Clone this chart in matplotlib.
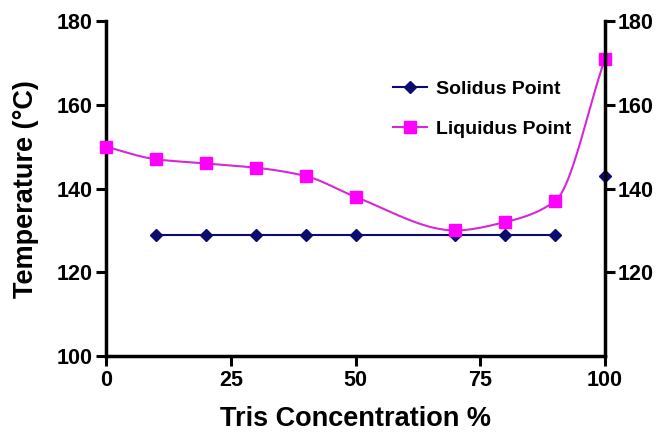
import numpy as np
import matplotlib
matplotlib.use("Agg")
import matplotlib.pyplot as plt

plt.rcParams['font.family'] = ['Liberation Sans', 'DejaVu Sans']
plt.rcParams['font.weight'] = 'bold'

# Data
solidus_x = [10, 20, 30, 40, 50, 70, 80, 90]
solidus_y = [129, 129, 129, 129, 129, 129, 129, 129]
solidus_extra_x = [100]
solidus_extra_y = [143]
liquidus_x = [0, 10, 20, 30, 40, 50, 70, 80, 90, 100]
liquidus_y = [150, 147, 146, 145, 143, 138, 130, 132, 137, 171]
xticks = [0, 25, 50, 75, 100]
yticks_left = [100, 120, 140, 160, 180]
yticks_right = [120, 140, 160, 180]


def pchip(x, y, n=400):
    x = np.asarray(x, float); y = np.asarray(y, float)
    h = np.diff(x); d = np.diff(y) / h
    m = np.zeros_like(y)
    for k in range(1, len(x) - 1):
        if d[k - 1] * d[k] > 0:
            w1 = 2 * h[k] + h[k - 1]; w2 = h[k] + 2 * h[k - 1]
            m[k] = (w1 + w2) / (w1 / d[k - 1] + w2 / d[k])
    m[0] = d[0]; m[-1] = d[-1]
    xs = np.linspace(x[0], x[-1], n)
    idx = np.clip(np.searchsorted(x, xs) - 1, 0, len(x) - 2)
    t = (xs - x[idx]) / h[idx]
    h00 = 2*t**3 - 3*t**2 + 1; h10 = t**3 - 2*t**2 + t
    h01 = -2*t**3 + 3*t**2; h11 = t**3 - t**2
    ys = h00*y[idx] + h10*h[idx]*m[idx] + h01*y[idx+1] + h11*h[idx]*m[idx+1]
    return xs, ys

fig = plt.figure(figsize=(6.67, 4.32), dpi=100)
ax = fig.add_axes([0.159, 0.176, 0.748, 0.775])

navy = '#0b0b70'
mag_line = '#d429d4'
mag_mark = '#ff00ff'

ax.plot(solidus_x, solidus_y, color=navy, lw=1.5, marker='D', ms=6.5,
        mfc=navy, mec=navy, label='Solidus Point', zorder=3)
ax.plot(solidus_extra_x, solidus_extra_y, ls='none', marker='D', ms=6.5,
        mfc=navy, mec=navy, zorder=3, clip_on=False)
xs, ys = pchip(liquidus_x, liquidus_y)
ax.plot(xs, ys, color=mag_line, lw=1.5, zorder=2, clip_on=False)
ax.plot(liquidus_x, liquidus_y, ls='none', marker='s', ms=8.5,
        mfc=mag_mark, mec=mag_mark, zorder=4, clip_on=False)
ax.plot([], [], color=mag_line, lw=1.5, marker='s', ms=8.5, mfc=mag_mark,
        mec=mag_mark, label='Liquidus Point')

ax.set_xlim(0, 100)
ax.set_ylim(100, 180)
ax.set_xticks(xticks)
ax.set_yticks(yticks_left)
for s in ['top', 'right']:
    ax.spines[s].set_visible(False)
for s in ['left', 'bottom']:
    ax.spines[s].set_linewidth(2.5)
ax.tick_params(axis='both', direction='out', length=7, width=2.2,
               labelsize=15.5, pad=3)
for lab in ax.get_xticklabels() + ax.get_yticklabels():
    lab.set_fontweight('bold')
ax.set_xlabel('Tris Concentration %', fontsize=19.5, fontweight='bold', labelpad=11)
ax.set_ylabel('Temperature (°C)', fontsize=19.5, fontweight='bold', labelpad=12)

ax2 = ax.twinx()
ax2.set_ylim(100, 180)
ax2.set_yticks(yticks_right)
for s in ['top', 'left', 'bottom']:
    ax2.spines[s].set_visible(False)
ax2.spines['right'].set_linewidth(2.5)
ax2.tick_params(axis='y', direction='out', length=7, width=2.2,
                labelsize=15.5, pad=2)
for lab in ax2.get_yticklabels():
    lab.set_fontweight('bold')

leg = ax.legend(loc='upper left', bbox_to_anchor=(393 / 667, 1 - 80 / 432),
                bbox_transform=fig.transFigure, frameon=False,
                borderpad=0, borderaxespad=0,
                handlelength=1.75, handletextpad=0.45, labelspacing=1.15,
                prop={'weight': 'bold', 'size': 14})

fig.savefig('out.png', dpi=100)
